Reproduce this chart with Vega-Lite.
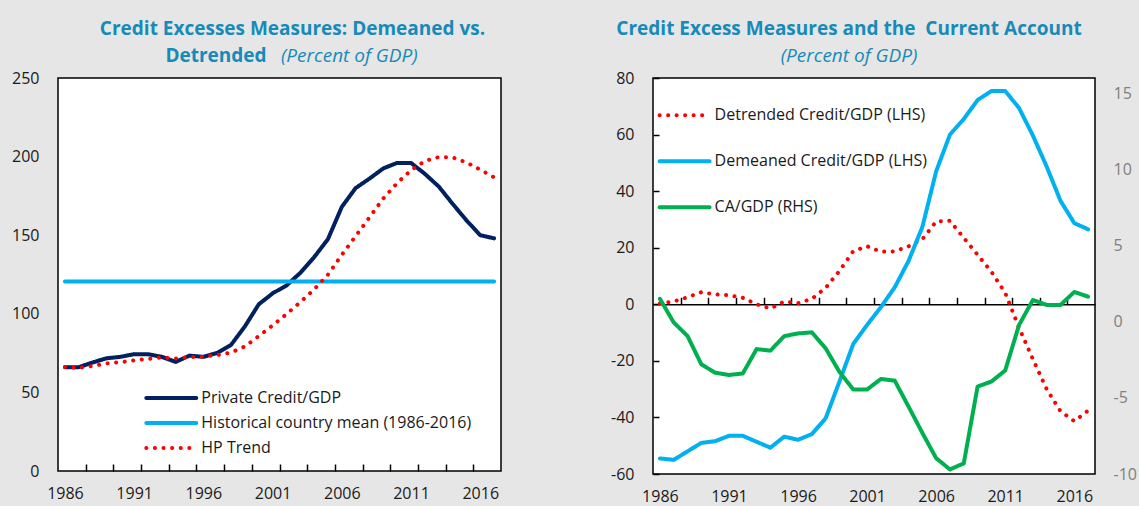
{
  "$schema": "https://vega.github.io/schema/vega-lite/v6.json",
  "background": "#e6e6e6",
  "padding": {"left": 10, "top": 19, "right": 20, "bottom": 10},
  "bounds": "flush",
  "spacing": 152,
  "config": {
    "view": {"stroke": "#000000", "strokeWidth": 1.5, "fill": "white"},
    "axis": {"labelFont": "Open Sans", "labelFontSize": 16, "labelColor": "#1a1a1a", "grid": false},
    "legend": {"labelFont": "Open Sans", "labelFontSize": 16, "labelColor": "#1a1a1a", "padding": 0, "labelLimit": 500},
    "title": {"font": "Open Sans", "fontSize": 19, "fontWeight": "bold", "color": "#178ab9", "anchor": "middle", "frame": "group", "lineHeight": 27, "offset": 4,
      "subtitleFont": "Open Sans", "subtitleFontSize": 19, "subtitleFontStyle": "italic", "subtitleFontWeight": "normal", "subtitleColor": "#178ab9"}
  },
  "resolve": {"scale": {"color": "independent", "strokeDash": "independent"}, "legend": {"color": "independent", "strokeDash": "independent"}},
  "hconcat": [
    {
      "width": 443,
      "height": 393,
      "title": {
        "text": ["Credit Excesses Measures: Demeaned vs.", "Detrended\u00a0\u00a0\u00a0\u00a0\u00a0\u00a0\u00a0\u00a0\u00a0\u00a0\u00a0\u00a0\u00a0\u00a0\u00a0\u00a0\u00a0\u00a0\u00a0\u00a0\u00a0\u00a0\u00a0\u00a0\u00a0\u00a0\u00a0\u00a0\u00a0\u00a0\u00a0\u200b"],
        "subtitle": "\u200b\u00a0\u00a0\u00a0\u00a0\u00a0\u00a0\u00a0\u00a0\u00a0\u00a0\u00a0\u00a0\u00a0\u00a0\u00a0\u00a0\u00a0\u00a0\u00a0\u00a0\u00a0\u00a0\u00a0(Percent of GDP)",
        "subtitlePadding": -19,
        "dx": 13
      },
      "data": {"values": [
        {"year": 1986, "series": "Private Credit/GDP", "value": 66},
        {"year": 1987, "series": "Private Credit/GDP", "value": 66},
        {"year": 1988, "series": "Private Credit/GDP", "value": 69},
        {"year": 1989, "series": "Private Credit/GDP", "value": 71.7},
        {"year": 1990, "series": "Private Credit/GDP", "value": 72.6},
        {"year": 1991, "series": "Private Credit/GDP", "value": 74.3},
        {"year": 1992, "series": "Private Credit/GDP", "value": 74.3},
        {"year": 1993, "series": "Private Credit/GDP", "value": 72.6},
        {"year": 1994, "series": "Private Credit/GDP", "value": 69.4},
        {"year": 1995, "series": "Private Credit/GDP", "value": 73.4},
        {"year": 1996, "series": "Private Credit/GDP", "value": 72.6},
        {"year": 1997, "series": "Private Credit/GDP", "value": 75.1},
        {"year": 1998, "series": "Private Credit/GDP", "value": 80.2},
        {"year": 1999, "series": "Private Credit/GDP", "value": 92},
        {"year": 2000, "series": "Private Credit/GDP", "value": 106},
        {"year": 2001, "series": "Private Credit/GDP", "value": 113},
        {"year": 2002, "series": "Private Credit/GDP", "value": 118},
        {"year": 2003, "series": "Private Credit/GDP", "value": 126},
        {"year": 2004, "series": "Private Credit/GDP", "value": 136},
        {"year": 2005, "series": "Private Credit/GDP", "value": 147.5},
        {"year": 2006, "series": "Private Credit/GDP", "value": 168},
        {"year": 2007, "series": "Private Credit/GDP", "value": 180},
        {"year": 2008, "series": "Private Credit/GDP", "value": 186},
        {"year": 2009, "series": "Private Credit/GDP", "value": 192.5},
        {"year": 2010, "series": "Private Credit/GDP", "value": 196},
        {"year": 2011, "series": "Private Credit/GDP", "value": 196},
        {"year": 2012, "series": "Private Credit/GDP", "value": 189},
        {"year": 2013, "series": "Private Credit/GDP", "value": 181},
        {"year": 2014, "series": "Private Credit/GDP", "value": 170},
        {"year": 2015, "series": "Private Credit/GDP", "value": 159.5},
        {"year": 2016, "series": "Private Credit/GDP", "value": 150},
        {"year": 2017, "series": "Private Credit/GDP", "value": 148},
        {"year": 1986, "series": "Historical country mean (1986-2016)", "value": 120.5},
        {"year": 1987, "series": "Historical country mean (1986-2016)", "value": 120.5},
        {"year": 1988, "series": "Historical country mean (1986-2016)", "value": 120.5},
        {"year": 1989, "series": "Historical country mean (1986-2016)", "value": 120.5},
        {"year": 1990, "series": "Historical country mean (1986-2016)", "value": 120.5},
        {"year": 1991, "series": "Historical country mean (1986-2016)", "value": 120.5},
        {"year": 1992, "series": "Historical country mean (1986-2016)", "value": 120.5},
        {"year": 1993, "series": "Historical country mean (1986-2016)", "value": 120.5},
        {"year": 1994, "series": "Historical country mean (1986-2016)", "value": 120.5},
        {"year": 1995, "series": "Historical country mean (1986-2016)", "value": 120.5},
        {"year": 1996, "series": "Historical country mean (1986-2016)", "value": 120.5},
        {"year": 1997, "series": "Historical country mean (1986-2016)", "value": 120.5},
        {"year": 1998, "series": "Historical country mean (1986-2016)", "value": 120.5},
        {"year": 1999, "series": "Historical country mean (1986-2016)", "value": 120.5},
        {"year": 2000, "series": "Historical country mean (1986-2016)", "value": 120.5},
        {"year": 2001, "series": "Historical country mean (1986-2016)", "value": 120.5},
        {"year": 2002, "series": "Historical country mean (1986-2016)", "value": 120.5},
        {"year": 2003, "series": "Historical country mean (1986-2016)", "value": 120.5},
        {"year": 2004, "series": "Historical country mean (1986-2016)", "value": 120.5},
        {"year": 2005, "series": "Historical country mean (1986-2016)", "value": 120.5},
        {"year": 2006, "series": "Historical country mean (1986-2016)", "value": 120.5},
        {"year": 2007, "series": "Historical country mean (1986-2016)", "value": 120.5},
        {"year": 2008, "series": "Historical country mean (1986-2016)", "value": 120.5},
        {"year": 2009, "series": "Historical country mean (1986-2016)", "value": 120.5},
        {"year": 2010, "series": "Historical country mean (1986-2016)", "value": 120.5},
        {"year": 2011, "series": "Historical country mean (1986-2016)", "value": 120.5},
        {"year": 2012, "series": "Historical country mean (1986-2016)", "value": 120.5},
        {"year": 2013, "series": "Historical country mean (1986-2016)", "value": 120.5},
        {"year": 2014, "series": "Historical country mean (1986-2016)", "value": 120.5},
        {"year": 2015, "series": "Historical country mean (1986-2016)", "value": 120.5},
        {"year": 2016, "series": "Historical country mean (1986-2016)", "value": 120.5},
        {"year": 2017, "series": "Historical country mean (1986-2016)", "value": 120.5},
        {"year": 1986, "series": "HP Trend", "value": 66.2},
        {"year": 1987, "series": "HP Trend", "value": 65.6},
        {"year": 1988, "series": "HP Trend", "value": 66.8},
        {"year": 1989, "series": "HP Trend", "value": 68.4},
        {"year": 1990, "series": "HP Trend", "value": 69.2},
        {"year": 1991, "series": "HP Trend", "value": 70.4},
        {"year": 1992, "series": "HP Trend", "value": 71.3},
        {"year": 1993, "series": "HP Trend", "value": 72.2},
        {"year": 1994, "series": "HP Trend", "value": 71.6},
        {"year": 1995, "series": "HP Trend", "value": 72.4},
        {"year": 1996, "series": "HP Trend", "value": 72.8},
        {"year": 1997, "series": "HP Trend", "value": 73.7},
        {"year": 1998, "series": "HP Trend", "value": 75.4},
        {"year": 1999, "series": "HP Trend", "value": 79.2},
        {"year": 2000, "series": "HP Trend", "value": 85.8},
        {"year": 2001, "series": "HP Trend", "value": 92.6},
        {"year": 2002, "series": "HP Trend", "value": 99.8},
        {"year": 2003, "series": "HP Trend", "value": 107.4},
        {"year": 2004, "series": "HP Trend", "value": 115.5},
        {"year": 2005, "series": "HP Trend", "value": 124.9},
        {"year": 2006, "series": "HP Trend", "value": 137.5},
        {"year": 2007, "series": "HP Trend", "value": 149.4},
        {"year": 2008, "series": "HP Trend", "value": 161.4},
        {"year": 2009, "series": "HP Trend", "value": 173.4},
        {"year": 2010, "series": "HP Trend", "value": 183.2},
        {"year": 2011, "series": "HP Trend", "value": 191.3},
        {"year": 2012, "series": "HP Trend", "value": 197.2},
        {"year": 2013, "series": "HP Trend", "value": 199.7},
        {"year": 2014, "series": "HP Trend", "value": 199.5},
        {"year": 2015, "series": "HP Trend", "value": 196.3},
        {"year": 2016, "series": "HP Trend", "value": 191.7},
        {"year": 2017, "series": "HP Trend", "value": 186.8}
      ]},
      "mark": {"type": "line", "strokeWidth": 4, "strokeCap": "round", "strokeJoin": "round"},
      "encoding": {
        "x": {"field": "year", "type": "quantitative",
          "scale": {"domain": [1985.5, 2017.5], "nice": false, "zero": false},
          "axis": {"title": null, "domain": false,
            "values": [1986, 1987.5, 1989.5, 1991, 1991.5, 1993.5, 1995.5, 1996, 1997.5, 1999.5, 2001, 2001.5, 2003.5, 2005.5, 2006, 2007.5, 2009.5, 2011, 2011.5, 2013.5, 2015.5, 2016],
            "labelExpr": "datum.value % 1 == 0 ? '' + datum.value : ''",
            "tickSize": -7, "tickWidth": 1.5, "tickColor": "#000000",
            "tickOpacity": {"condition": {"test": "datum.value % 1 == 0", "value": 0}, "value": 1},
            "labelPadding": 21, "labelFlush": false, "labelOverlap": false}},
        "y": {"field": "value", "type": "quantitative",
          "scale": {"domain": [0, 250], "nice": false},
          "axis": {"title": null, "domain": false, "ticks": false, "values": [0, 50, 100, 150, 200, 250], "labelPadding": 19}},
        "color": {"field": "series", "type": "nominal",
          "scale": {"domain": ["Private Credit/GDP", "Historical country mean (1986-2016)", "HP Trend"], "range": ["#002060", "#00b0f0", "#ff0000"]},
          "legend": {"title": null, "orient": "none", "legendX": 101.3, "legendY": 308, "symbolType": "M-2.5,0L2.5,0", "symbolSize": 400, "symbolStrokeWidth": 4, "labelOffset": 18, "rowPadding": 5, "encoding": {"symbols": {"strokeCap": {"value": "round"}}}}},
        "strokeDash": {"field": "series", "type": "nominal",
          "scale": {"domain": ["Private Credit/GDP", "Historical country mean (1986-2016)", "HP Trend"], "range": [[1, 0], [1, 0], [0.1, 8.5]]},
          "legend": {"title": null, "orient": "none", "legendX": 101.3, "legendY": 308, "symbolType": "M-2.5,0L2.5,0", "symbolSize": 400, "symbolStrokeWidth": 4, "labelOffset": 18, "rowPadding": 5, "encoding": {"symbols": {"strokeCap": {"value": "round"}}}}}
      }
    },
    {
      "width": 442,
      "height": 396,
      "title": {
        "text": "Credit Excess Measures and the\u00a0 Current Account",
        "subtitle": "(Percent of GDP)",
        "subtitlePadding": 8,
        "dx": -25
      },
      "data": {"values": [
        {"year": 1986, "series": "Detrended Credit/GDP (LHS)", "value": 0.3},
        {"year": 1987, "series": "Detrended Credit/GDP (LHS)", "value": 1.0},
        {"year": 1988, "series": "Detrended Credit/GDP (LHS)", "value": 2.5},
        {"year": 1989, "series": "Detrended Credit/GDP (LHS)", "value": 4.3},
        {"year": 1990, "series": "Detrended Credit/GDP (LHS)", "value": 3.5},
        {"year": 1991, "series": "Detrended Credit/GDP (LHS)", "value": 3.2},
        {"year": 1992, "series": "Detrended Credit/GDP (LHS)", "value": 2.3},
        {"year": 1993, "series": "Detrended Credit/GDP (LHS)", "value": 0},
        {"year": 1994, "series": "Detrended Credit/GDP (LHS)", "value": -1.5},
        {"year": 1995, "series": "Detrended Credit/GDP (LHS)", "value": 1.0},
        {"year": 1996, "series": "Detrended Credit/GDP (LHS)", "value": 0.4},
        {"year": 1997, "series": "Detrended Credit/GDP (LHS)", "value": 1.9},
        {"year": 1998, "series": "Detrended Credit/GDP (LHS)", "value": 5.8},
        {"year": 1999, "series": "Detrended Credit/GDP (LHS)", "value": 11.8},
        {"year": 2000, "series": "Detrended Credit/GDP (LHS)", "value": 18.8},
        {"year": 2001, "series": "Detrended Credit/GDP (LHS)", "value": 20.5},
        {"year": 2002, "series": "Detrended Credit/GDP (LHS)", "value": 18.6},
        {"year": 2003, "series": "Detrended Credit/GDP (LHS)", "value": 18.7},
        {"year": 2004, "series": "Detrended Credit/GDP (LHS)", "value": 20.5},
        {"year": 2005, "series": "Detrended Credit/GDP (LHS)", "value": 23},
        {"year": 2006, "series": "Detrended Credit/GDP (LHS)", "value": 29.3},
        {"year": 2007, "series": "Detrended Credit/GDP (LHS)", "value": 29.5},
        {"year": 2008, "series": "Detrended Credit/GDP (LHS)", "value": 23.5},
        {"year": 2009, "series": "Detrended Credit/GDP (LHS)", "value": 17.5},
        {"year": 2010, "series": "Detrended Credit/GDP (LHS)", "value": 11.5},
        {"year": 2011, "series": "Detrended Credit/GDP (LHS)", "value": 4},
        {"year": 2012, "series": "Detrended Credit/GDP (LHS)", "value": -8.3},
        {"year": 2013, "series": "Detrended Credit/GDP (LHS)", "value": -19.4},
        {"year": 2014, "series": "Detrended Credit/GDP (LHS)", "value": -30},
        {"year": 2015, "series": "Detrended Credit/GDP (LHS)", "value": -37.8},
        {"year": 2016, "series": "Detrended Credit/GDP (LHS)", "value": -41.3},
        {"year": 2017, "series": "Detrended Credit/GDP (LHS)", "value": -37.6},
        {"year": 1986, "series": "Demeaned Credit/GDP (LHS)", "value": -54.5},
        {"year": 1987, "series": "Demeaned Credit/GDP (LHS)", "value": -55},
        {"year": 1988, "series": "Demeaned Credit/GDP (LHS)", "value": -52},
        {"year": 1989, "series": "Demeaned Credit/GDP (LHS)", "value": -49},
        {"year": 1990, "series": "Demeaned Credit/GDP (LHS)", "value": -48.4},
        {"year": 1991, "series": "Demeaned Credit/GDP (LHS)", "value": -46.5},
        {"year": 1992, "series": "Demeaned Credit/GDP (LHS)", "value": -46.5},
        {"year": 1993, "series": "Demeaned Credit/GDP (LHS)", "value": -48.6},
        {"year": 1994, "series": "Demeaned Credit/GDP (LHS)", "value": -50.7},
        {"year": 1995, "series": "Demeaned Credit/GDP (LHS)", "value": -46.8},
        {"year": 1996, "series": "Demeaned Credit/GDP (LHS)", "value": -47.9},
        {"year": 1997, "series": "Demeaned Credit/GDP (LHS)", "value": -45.9},
        {"year": 1998, "series": "Demeaned Credit/GDP (LHS)", "value": -40.3},
        {"year": 1999, "series": "Demeaned Credit/GDP (LHS)", "value": -27.3},
        {"year": 2000, "series": "Demeaned Credit/GDP (LHS)", "value": -14},
        {"year": 2001, "series": "Demeaned Credit/GDP (LHS)", "value": -7.3},
        {"year": 2002, "series": "Demeaned Credit/GDP (LHS)", "value": -1},
        {"year": 2003, "series": "Demeaned Credit/GDP (LHS)", "value": 6},
        {"year": 2004, "series": "Demeaned Credit/GDP (LHS)", "value": 15.3},
        {"year": 2005, "series": "Demeaned Credit/GDP (LHS)", "value": 27.3},
        {"year": 2006, "series": "Demeaned Credit/GDP (LHS)", "value": 47},
        {"year": 2007, "series": "Demeaned Credit/GDP (LHS)", "value": 60},
        {"year": 2008, "series": "Demeaned Credit/GDP (LHS)", "value": 65.5},
        {"year": 2009, "series": "Demeaned Credit/GDP (LHS)", "value": 72.2},
        {"year": 2010, "series": "Demeaned Credit/GDP (LHS)", "value": 75.4},
        {"year": 2011, "series": "Demeaned Credit/GDP (LHS)", "value": 75.4},
        {"year": 2012, "series": "Demeaned Credit/GDP (LHS)", "value": 69.4},
        {"year": 2013, "series": "Demeaned Credit/GDP (LHS)", "value": 59.7},
        {"year": 2014, "series": "Demeaned Credit/GDP (LHS)", "value": 48.7},
        {"year": 2015, "series": "Demeaned Credit/GDP (LHS)", "value": 36.6},
        {"year": 2016, "series": "Demeaned Credit/GDP (LHS)", "value": 28.7},
        {"year": 2017, "series": "Demeaned Credit/GDP (LHS)", "value": 26.5},
        {"year": 1986, "series": "CA/GDP (RHS)", "value": 1.5},
        {"year": 1987, "series": "CA/GDP (RHS)", "value": -0.05},
        {"year": 1988, "series": "CA/GDP (RHS)", "value": -0.94},
        {"year": 1989, "series": "CA/GDP (RHS)", "value": -2.8},
        {"year": 1990, "series": "CA/GDP (RHS)", "value": -3.35},
        {"year": 1991, "series": "CA/GDP (RHS)", "value": -3.5},
        {"year": 1992, "series": "CA/GDP (RHS)", "value": -3.4},
        {"year": 1993, "series": "CA/GDP (RHS)", "value": -1.8},
        {"year": 1994, "series": "CA/GDP (RHS)", "value": -1.9},
        {"year": 1995, "series": "CA/GDP (RHS)", "value": -0.95},
        {"year": 1996, "series": "CA/GDP (RHS)", "value": -0.77},
        {"year": 1997, "series": "CA/GDP (RHS)", "value": -0.7},
        {"year": 1998, "series": "CA/GDP (RHS)", "value": -1.75},
        {"year": 1999, "series": "CA/GDP (RHS)", "value": -3.3},
        {"year": 2000, "series": "CA/GDP (RHS)", "value": -4.45},
        {"year": 2001, "series": "CA/GDP (RHS)", "value": -4.45},
        {"year": 2002, "series": "CA/GDP (RHS)", "value": -3.76},
        {"year": 2003, "series": "CA/GDP (RHS)", "value": -3.87},
        {"year": 2004, "series": "CA/GDP (RHS)", "value": -5.57},
        {"year": 2005, "series": "CA/GDP (RHS)", "value": -7.3},
        {"year": 2006, "series": "CA/GDP (RHS)", "value": -8.96},
        {"year": 2007, "series": "CA/GDP (RHS)", "value": -9.7},
        {"year": 2008, "series": "CA/GDP (RHS)", "value": -9.3},
        {"year": 2009, "series": "CA/GDP (RHS)", "value": -4.26},
        {"year": 2010, "series": "CA/GDP (RHS)", "value": -3.93},
        {"year": 2011, "series": "CA/GDP (RHS)", "value": -3.2},
        {"year": 2012, "series": "CA/GDP (RHS)", "value": -0.22},
        {"year": 2013, "series": "CA/GDP (RHS)", "value": 1.42},
        {"year": 2014, "series": "CA/GDP (RHS)", "value": 1.1},
        {"year": 2015, "series": "CA/GDP (RHS)", "value": 1.1},
        {"year": 2016, "series": "CA/GDP (RHS)", "value": 1.95},
        {"year": 2017, "series": "CA/GDP (RHS)", "value": 1.64}
      ]},
      "layer": [
        {
          "transform": [{"filter": "datum.series != 'CA/GDP (RHS)'"}],
          "mark": {"type": "line", "strokeWidth": 4, "strokeCap": "round", "strokeJoin": "round"},
          "encoding": {
            "x": {"field": "year", "type": "quantitative",
              "scale": {"domain": [1985.5, 2017.5], "nice": false, "zero": false},
              "axis": {"title": null, "orient": "bottom", "domain": false, "ticks": false,
                "values": [1986, 1991, 1996, 2001, 2006, 2011, 2016],
                "labelExpr": "'' + datum.value", "labelPadding": 14, "labelFlush": false, "labelOverlap": false}},
            "y": {"field": "value", "type": "quantitative",
              "scale": {"domain": [-60, 80], "nice": false},
              "axis": {"title": null, "orient": "left", "domain": false, "values": [-60, -40, -20, 0, 20, 40, 60, 80],
                "labelExpr": "'' + datum.value",
                "tickSize": -6, "tickWidth": 1.5, "tickColor": "#000000", "labelPadding": 25}},
            "color": {"field": "series", "type": "nominal",
              "scale": {"domain": ["Detrended Credit/GDP (LHS)", "Demeaned Credit/GDP (LHS)", "CA/GDP (RHS)"], "range": ["#ff0000", "#00b0f0", "#00b050"]},
              "legend": {"title": null, "orient": "none", "legendX": 19.6, "legendY": 25.3, "symbolType": "M-2.5,0L2.5,0", "symbolSize": 400, "symbolStrokeWidth": 4, "labelOffset": 18, "rowPadding": 26, "encoding": {"symbols": {"strokeCap": {"value": "round"}}}}},
            "strokeDash": {"field": "series", "type": "nominal",
              "scale": {"domain": ["Detrended Credit/GDP (LHS)", "Demeaned Credit/GDP (LHS)", "CA/GDP (RHS)"], "range": [[0.1, 8.4], [1, 0], [1, 0]]},
              "legend": {"title": null, "orient": "none", "legendX": 19.6, "legendY": 25.3, "symbolType": "M-2.5,0L2.5,0", "symbolSize": 400, "symbolStrokeWidth": 4, "labelOffset": 18, "rowPadding": 26, "encoding": {"symbols": {"strokeCap": {"value": "round"}}}}}
          }
        },
        {
          "transform": [{"filter": "datum.series == 'CA/GDP (RHS)'"}],
          "mark": {"type": "line", "strokeWidth": 4, "strokeCap": "round", "strokeJoin": "round"},
          "encoding": {
            "x": {"field": "year", "type": "quantitative",
              "scale": {"domain": [1985.5, 2017.5], "nice": false, "zero": false},
              "axis": {"title": null, "orient": "top", "offset": -226.3, "labels": false,
                "values": [1987.5, 1989.5, 1991.5, 1993.5, 1995.5, 1997.5, 1999.5, 2001.5, 2003.5, 2005.5, 2007.5, 2009.5, 2011.5, 2013.5, 2015.5],
                "tickSize": 7, "tickWidth": 1.5, "tickColor": "#000000", "domain": true, "domainColor": "#000000", "domainWidth": 1.5}},
            "y": {"field": "value", "type": "quantitative",
              "scale": {"domain": [-10, 16], "nice": false},
              "axis": {"title": null, "orient": "right", "domain": false, "ticks": false, "values": [-10, -5, 0, 5, 10, 15],
                "labelExpr": "'' + datum.value", "labelColor": "#808080", "labelPadding": 18}},
            "color": {"field": "series", "type": "nominal",
              "scale": {"domain": ["Detrended Credit/GDP (LHS)", "Demeaned Credit/GDP (LHS)", "CA/GDP (RHS)"], "range": ["#ff0000", "#00b0f0", "#00b050"]}},
            "strokeDash": {"field": "series", "type": "nominal",
              "scale": {"domain": ["Detrended Credit/GDP (LHS)", "Demeaned Credit/GDP (LHS)", "CA/GDP (RHS)"], "range": [[0.1, 8.4], [1, 0], [1, 0]]}}
          }
        }
      ],
      "resolve": {"scale": {"y": "independent"}, "axis": {"x": "independent"}}
    }
  ]
}
